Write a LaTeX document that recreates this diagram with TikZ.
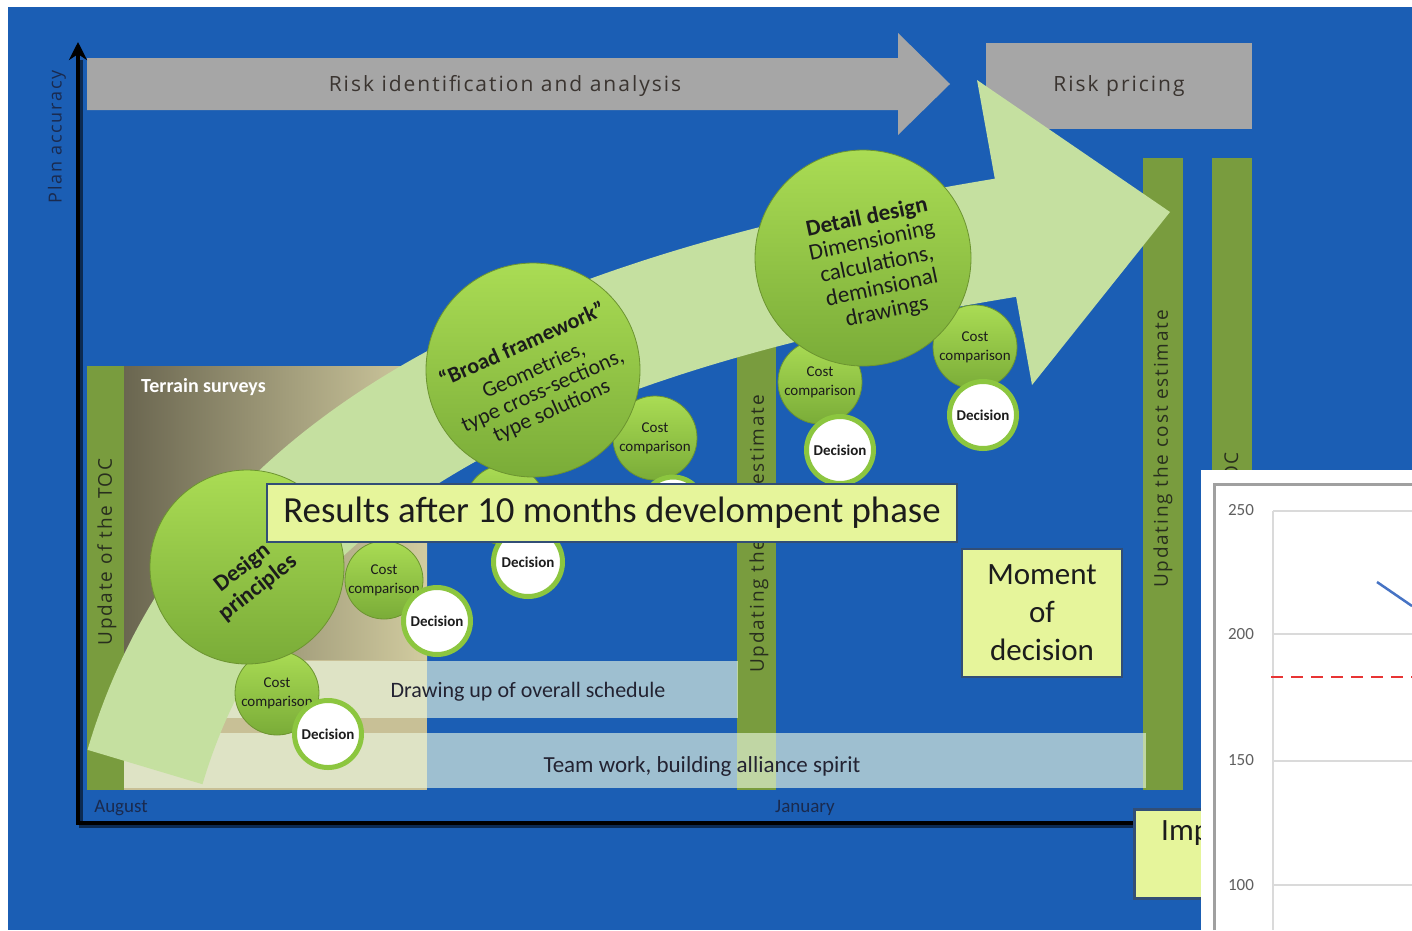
\documentclass[tikz,border=0pt]{standalone}
\usepackage{fontspec}
\setmainfont{Carlito}
\newfontfamily\widefont{Open Sans}[LetterSpace=9.5]
\usetikzlibrary{arrows.meta}

\definecolor{bgblue}{RGB}{27,94,180}
\definecolor{riskgray}{RGB}{166,166,166}
\definecolor{riskink}{RGB}{58,52,48}
\definecolor{arrowgreen}{RGB}{197,224,160}
\definecolor{bargreen}{RGB}{121,156,62}
\definecolor{barink}{RGB}{40,46,30}
\definecolor{noteyellow}{RGB}{230,245,155}
\definecolor{noteborder}{RGB}{50,78,118}
\definecolor{bandtint}{RGB}{235,248,225}
\definecolor{bandink}{RGB}{35,35,50}
\definecolor{balltop}{RGB}{170,220,84}
\definecolor{ballbottom}{RGB}{122,172,56}
\definecolor{ballrim}{RGB}{108,148,48}
\definecolor{ringgreen}{RGB}{140,198,63}
\definecolor{inkdark}{RGB}{28,28,28}
\definecolor{axisink}{RGB}{26,42,78}
\definecolor{terrdark}{RGB}{106,102,80}
\definecolor{terrmid}{RGB}{170,164,128}
\definecolor{terrlight}{RGB}{210,204,160}
\definecolor{beige}{RGB}{200,192,150}
\definecolor{tickgray}{RGB}{95,95,95}
\definecolor{gridgray}{RGB}{218,218,218}
\definecolor{framegray}{RGB}{160,160,160}
\definecolor{dashred}{RGB}{232,52,52}
\definecolor{seriesblue}{RGB}{70,115,196}

\tikzset{
  ball/.style={circle, draw=ballrim, line width=0.8pt, top color=balltop, bottom color=ballbottom, inner sep=0pt},
  ring/.style={circle, draw=ringgreen, line width=5pt, fill=white, inner sep=0pt},
  costlabel/.style={align=center, font=\fontsize{15}{19}\selectfont, text=inkdark, inner sep=0pt},
  decisionlabel/.style={font=\bfseries\fontsize{15}{18}\selectfont, text=inkdark, inner sep=0pt},
  barlabel/.style={rotate=90, font=\widefont\fontsize{19}{21}\selectfont, text=barink, inner sep=0pt},
  banner/.style={font=\widefont\fontsize{21}{23}\selectfont, text=riskink},
  notebox/.style={draw=noteborder, line width=2.5pt, fill=noteyellow, inner sep=0pt},
  bandlabel/.style={text=bandink, inner sep=0pt},
  monthlabel/.style={font=\fontsize{19}{20}\selectfont, text=axisink, inner sep=0pt},
  ticklabel/.style={font=\fontsize{17}{18}\selectfont, text=tickgray, inner sep=0pt},
  gridrule/.style={draw=gridgray, line width=1.6pt},
  balltext/.style={align=center, text=inkdark, inner sep=0pt},
}

\begin{document}
\begin{tikzpicture}[x=1pt,y=-1pt]
\useasboundingbox (0,0) rectangle (1412,930);
\fill[white] (0,0) rectangle (1412,930);
\fill[bgblue] (8,7) rectangle (1412,930);

% phase banners
\fill[riskgray] (87,58) -- (898,58) -- (898,33) -- (950,84) -- (898,135) -- (898,110) -- (87,110) -- cycle;
\node[banner] (riskid) at (505,86) {Risk identification and analysis};
\node[banner, fill=riskgray, minimum width=266pt, minimum height=86pt, inner sep=0pt] (pricing) at (1119,86) {Risk pricing};

% cost estimate update bars
\fill[bargreen] (87,366) rectangle (124,790);
\fill[bargreen] (737,300) rectangle (776,790);
\fill[bargreen] (1143,158) rectangle (1183,790);
\fill[bargreen] (1212,158) rectangle (1252,790);

% terrain surveys field
\shade[left color=terrdark, middle color=terrmid, right color=terrlight] (124,366) rectangle (427,660);
\fill[beige] (124,660) rectangle (427,790);

% activity bands
\fill[bandtint, opacity=0.63] (124,661) rectangle (738,718);
\fill[bandtint, opacity=0.63] (124,733) rectangle (1146,788);

% big progress arrow
\draw[arrowgreen, line width=120pt] (145,767) .. controls (230,480) and (500,320) .. (1010,237);
\fill[arrowgreen] (977,80) -- (1170,212) -- (1032,385) -- cycle;

% labels on bars and bands
\node[barlabel] (toc) at (107,552) {Update of the TOC};
\node[barlabel] (upd1) at (759,534) {Updating the cost estimate};
\node[barlabel] (upd2) at (1163,449) {Updating the cost estimate};
\node[barlabel, anchor=east] (toc2) at (1233,452) {Update of the TOC};
\node[bandlabel, font=\fontsize{22}{24}\selectfont] (schedule) at (528,692) {Drawing up of overall schedule};
\node[bandlabel, font=\fontsize{23}{25}\selectfont] (team) at (702,766) {Team work, building alliance spirit};
\node[font=\bfseries\fontsize{20}{22}\selectfont, text=white, anchor=west, inner sep=0pt] (terrain) at (141,387) {Terrain surveys};

% cost comparison circles
\node[ball, minimum size=78pt] (c1) at (384,580) {};
\node[ball, minimum size=84pt] (c2) at (277,693) {};
\node[ball, minimum size=80pt] (c3) at (505,505) {};
\node[ball, minimum size=84pt] (c4) at (655,438) {};
\node[ball, minimum size=84pt] (c5) at (820,382) {};
\node[ball, minimum size=84pt] (c6) at (975,347) {};
\node[costlabel] at (c1) {Cost\\comparison};
\node[costlabel] at (c2) {Cost\\comparison};
\node[costlabel] at (c4) {Cost\\comparison};
\node[costlabel] at (c5) {Cost\\comparison};
\node[costlabel] at (c6) {Cost\\comparison};

% decision circles
\node[ring, minimum size=67pt] (d1) at (437,621) {};
\node[ring, minimum size=67pt] (d2) at (328,734) {};
\node[ring, minimum size=69pt] (d3) at (528,562) {};
\node[ring, minimum size=62pt] (d4) at (673,508) {};
\node[ring, minimum size=67pt] (d5) at (840,450) {};
\node[ring, minimum size=67pt] (d6) at (983,415) {};
\node[decisionlabel] at (d1) {Decision};
\node[decisionlabel] at (d2) {Decision};
\node[decisionlabel] at (d3) {Decision};
\node[decisionlabel] at (d5) {Decision};
\node[decisionlabel] at (d6) {Decision};

% design stages
\node[ball, minimum size=194pt] (design) at (247,567) {};
\node[ball, minimum size=214pt] (broad) at (533,370) {};
\node[ball, minimum size=216pt] (detail) at (863,258) {};
\node[balltext, rotate=38, font=\bfseries\fontsize{23}{25}\selectfont] (designtext) at (250,578) {Design\\principles};
\node[balltext, rotate=24, font=\fontsize{22}{22}\selectfont] (broadtext) at (537,378)
  {\textbf{“Broad framework”}\\[6pt]Geometries,\\type cross-sections,\\type solutions};
\node[balltext, rotate=12, font=\fontsize{23}{24}\selectfont] (detailtext) at (877,265)
  {\textbf{Detail design}\\Dimensioning\\calculations,\\deminsional\\drawings};

% notes
\node[notebox, minimum width=690pt, minimum height=58pt, font=\fontsize{36.8}{40}\selectfont, text=inkdark] (results) at (612,513)
  {Results after 10 months develompent phase};
\node[notebox, minimum width=160pt, minimum height=128pt, align=center, font=\fontsize{31}{38}\selectfont, text=inkdark] (moment) at (1042,613)
  {Moment\\of\\decision};

% axes
\draw[black!55!bgblue, line width=4pt] (1135,826) -- (80.5,826) -- (80.5,60);
\draw[black, line width=3.5pt, -{Stealth[length=18pt,width=18pt]}] (1135,823) -- (78,823) -- (78,42);
\node[rotate=90, font=\widefont\fontsize{18}{19}\selectfont, text=axisink] (planacc) at (57,137) {Plan accuracy};
\node[monthlabel] (aug) at (121,808) {August};
\node[monthlabel] (jan) at (805,808) {January};

% implementation note
\node[notebox, anchor=north west, minimum width=140pt, minimum height=89pt] (impbox) at (1133,808) {};
\node[font=\fontsize{31}{34}\selectfont, text=inkdark, anchor=west, inner sep=0pt] (imp) at (1161,833) {Imp};

% chart panel
\fill[white] (1201,470) rectangle (1412,930);
\draw[framegray, line width=3pt] (1214,930) -- (1214,484) -- (1412,484);
\coordinate (g250) at (1273,511);
\coordinate (g200) at (1273,634);
\coordinate (g150) at (1273,761);
\coordinate (g100) at (1273,885);
\draw[gridrule] (g250) -- (1412,511);
\draw[gridrule] (g200) -- (1412,634);
\draw[gridrule] (g150) -- (1412,761);
\draw[gridrule] (g100) -- (1412,885);
\draw[gridrule] (g250) -- (1273,930);
\node[ticklabel] (t250) at (1241,510) {250};
\node[ticklabel] (t200) at (1241,634) {200};
\node[ticklabel] (t150) at (1241,760) {150};
\node[ticklabel] (t100) at (1241,885) {100};
\coordinate (budgetstart) at (1271,677);
\coordinate (budgetend) at (1412,677);
\draw[dashred, line width=2pt, dash pattern=on 12pt off 8pt] (budgetstart) -- (budgetend);
\coordinate (seriesa) at (1377,582);
\coordinate (seriesb) at (1412,606);
\draw[seriesblue, line width=2.5pt] (seriesa) -- (seriesb);
\end{tikzpicture}
\end{document}
